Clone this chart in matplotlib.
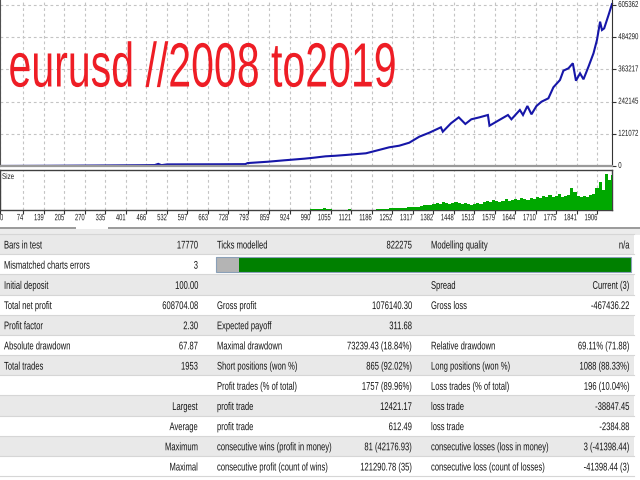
import matplotlib
matplotlib.use("Agg")
import matplotlib.pyplot as plt
import matplotlib.patheffects as pe
from matplotlib.transforms import Affine2D
from matplotlib.patches import Rectangle

# ---------------- data ----------------
title_text = "eurusd //2008 to2019"

bal_trades = [0, 150, 300, 450, 494, 505, 515, 533, 600, 700, 783, 790, 854, 907, 972,
              1000, 1039, 1070, 1103, 1168, 1209, 1242, 1274, 1306, 1338, 1370, 1407,
              1413, 1439, 1464, 1485, 1504, 1530, 1557, 1562, 1584, 1621, 1632, 1659,
              1669, 1683, 1696, 1712, 1728, 1750, 1766, 1787, 1798, 1814, 1828, 1838,
              1851, 1862, 1878, 1894, 1905, 1915, 1921, 1928, 1942, 1953]
balance = [100, 800, 1800, 3000, 3500, 8000, 3200, 6000, 6200, 6500, 7000, 11000, 16000,
           21400, 27600, 31000, 36400, 38500, 41400, 47800, 60200, 70300, 76300, 87600,
           110200, 125200, 145500, 129000, 160500, 183000, 158000, 175600, 183000, 191800,
           151500, 166600, 191800, 175600, 210600, 191800, 225600, 194300, 225600, 241800,
           254500, 296000, 323400, 358500, 367300, 386200, 320700, 348400, 326000, 373600,
           423900, 473800, 542700, 511300, 517500, 567800, 608804]

size_trades = [990, 1000, 1010, 1020, 1030, 1040, 1050, 1110,
               1200, 1210, 1220, 1230, 1240, 1250, 1260, 1270, 1280, 1290, 1300,
               1310, 1320, 1330, 1340, 1350, 1360, 1370, 1380,
               1390, 1400, 1410, 1420, 1430, 1440, 1450, 1460, 1470, 1480, 1490,
               1500, 1510, 1520, 1530,
               1540, 1550, 1560, 1570, 1580, 1590, 1600, 1610, 1620, 1630,
               1640, 1650, 1660, 1670, 1680, 1690, 1700,
               1710, 1720, 1730, 1740, 1750, 1760, 1770, 1780, 1790, 1800,
               1810, 1820, 1830, 1840, 1850, 1860, 1870, 1880, 1890,
               1900, 1910, 1920, 1930, 1940, 1950]
size_lots = [1.0, 1.5, 1.0, 1.5, 2.0, 1.5, 1.5, 1.5,
             1.0, 1.0, 1.5, 1.5, 2.0, 2.0, 2.0, 2.5, 2.0, 2.5, 3.0,
             3.0, 3.5, 3.0, 4.0, 5.0, 5.5, 5.0, 6.0,
             7.0, 6.5, 8.0, 7.0, 6.5, 7.5, 8.0, 7.0, 6.5, 7.0, 6.0,
             5.5, 6.0, 7.0, 6.5,
             8.0, 9.0, 8.5, 10.0, 9.0, 8.5, 9.5, 11.0, 9.0, 10.0,
             11.0, 10.0, 12.0, 11.0, 10.5, 12.0, 11.0,
             13.0, 12.0, 14.0, 13.0, 15.0, 13.0, 14.0, 16.0, 13.0, 14.0,
             15.0, 22.0, 18.0, 14.0, 13.0, 14.0, 13.0, 15.0, 16.0,
             22.0, 28.0, 20.0, 36.0, 30.0, 35.0]

x_tick_vals = [0, 74, 139, 205, 270, 335, 401, 466, 532, 597, 663, 728, 793, 859, 924,
               990, 1055, 1121, 1186, 1252, 1317, 1382, 1448, 1513, 1579, 1644, 1710,
               1775, 1841, 1906]
y_tick_vals = [0, 121072, 242145, 363217, 484290, 605362]

col1_labels = ["Bars in test", "Mismatched charts errors", "Initial deposit", "Total net profit",
               "Profit factor", "Absolute drawdown", "Total trades", "", "Largest", "Average",
               "Maximum", "Maximal"]
col1_values = ["17770", "3", "100.00", "608704.08", "2.30", "67.87", "1953", "", "", "", "", ""]
col2_labels = ["Ticks modelled", "", "", "Gross profit", "Expected payoff", "Maximal drawdown",
               "Short positions (won %)", "Profit trades (% of total)", "profit trade",
               "profit trade", "consecutive wins (profit in money)",
               "consecutive profit (count of wins)"]
col2_values = ["822275", "", "", "1076140.30", "311.68", "73239.43 (18.84%)", "865 (92.02%)",
               "1757 (89.96%)", "12421.17", "612.49", "81 (42176.93)", "121290.78 (35)"]
col3_labels = ["Modelling quality", "", "Spread", "Gross loss", "", "Relative drawdown",
               "Long positions (won %)", "Loss trades (% of total)", "loss trade", "loss trade",
               "consecutive losses (loss in money)", "consecutive loss (count of losses)"]
col3_values = ["n/a", "", "Current (3)", "-467436.22", "", "69.11% (71.88)", "1088 (88.33%)",
               "196 (10.04%)", "-38847.45", "-2384.88", "3 (-41398.44)", "-41398.44 (3)"]
quality_gray_frac = 0.055


# ---------------- helpers ----------------
class Stretch(pe.AbstractPathEffect):
    """Draw glyphs taller than their layout size (about the baseline), giving the
    narrow lettering of the squeezed reference screenshot."""
    def __init__(self, sy):
        super().__init__()
        self.sy = sy

    def draw_path(self, renderer, gc, tpath, affine, rgbFace=None):
        renderer.draw_path(gc, tpath, Affine2D().scale(1.0, self.sy) + affine, rgbFace)


def narrow(size, sx):
    """font size for layout, path effect list"""
    return size * sx, [Stretch(1.0 / sx)]


W, H = 640, 480
plt.rcParams["font.family"] = ["Liberation Sans", "DejaVu Sans"]

fig = plt.figure(figsize=(6.4, 4.8), dpi=100)
fig.patch.set_facecolor("white")


def px_axes(x0, y0, x1, y1, **kw):
    return fig.add_axes([x0 / W, 1 - y1 / H, (x1 - x0) / W, (y1 - y0) / H], **kw)


bg = px_axes(0, 0, W, H)
bg.set_xlim(0, W)
bg.set_ylim(H, 0)
bg.axis("off")

# ---------------- balance chart ----------------
ax1 = px_axes(0, 0, 612, 166)
ax1.set_facecolor("white")
ax1.plot(bal_trades, balance, color="#1616a8", lw=1.5, solid_joinstyle="miter",
         zorder=3, clip_on=False)
ax1.set_xlim(0, 1953)
ax1.set_ylim(0, 605362 * 166 / 161)
ax1.set_xticks(x_tick_vals)
ax1.set_yticks(y_tick_vals)
ax1.set_yticklabels([str(v) for v in y_tick_vals])
ax1.yaxis.tick_right()
ys, yeff = narrow(6.2, 0.70)
ax1.tick_params(axis="x", length=0, labelbottom=False)
ax1.tick_params(axis="y", length=3, width=0.8, color="#333333", pad=1.5,
                labelsize=ys, labelcolor="#1a1a1a")
for lbl in ax1.get_yticklabels():
    lbl.set_path_effects(yeff)
ax1.grid(True, color="#c4c4c4", linestyle=(0, (2.5, 2.5)), linewidth=0.8)
ax1.spines["top"].set_visible(False)
ax1.spines["left"].set_color("#505050")
ax1.spines["right"].set_color("#333333")
ax1.spines["bottom"].set_color("#9a9a9a")
ax1.spines["bottom"].set_linewidth(1.6)
for s in ax1.spines.values():
    s.set_zorder(4)

# ---------------- size panel ----------------
ax2 = px_axes(0, 170, 612, 210)
ax2.bar(size_trades, size_lots, width=10, align="edge", color="#00a800", linewidth=0, zorder=3)
ax2.set_xlim(0, 1953)
ax2.set_ylim(0, 40)
ax2.set_yticks([])
ax2.set_xticks(x_tick_vals)
ax2.set_xticklabels([str(v) for v in x_tick_vals], ha="right")
xs, xeff = narrow(6.6, 0.63)
ax2.tick_params(axis="x", length=3, width=0.8, color="#333333", pad=1.5,
                labelsize=xs, labelcolor="#1a1a1a")
xlbls = ax2.get_xticklabels()
for lbl in xlbls:
    lbl.set_path_effects(xeff)
xlbls[0].set_horizontalalignment("left")
ax2.grid(True, axis="x", color="#c4c4c4", linestyle=(0, (2.5, 2.5)), linewidth=0.8)
for s in ax2.spines.values():
    s.set_color("#404040")
    s.set_linewidth(1.0)
ss, seff = narrow(6.0, 0.75)
ax2.text(2, 179, "Size", transform=bg.transData, fontsize=ss, color="#222222",
         va="baseline", ha="left", path_effects=seff)

# ---------------- title ----------------
ts, teff = narrow(45, 0.657)
ax1.text(8.5, 86.5, title_text, transform=bg.transData, fontsize=ts, color="#ee1d25",
         ha="left", va="baseline", zorder=6, path_effects=teff)

# ---------------- scroll bar line ----------------
bg.add_patch(Rectangle((0, 229), W, 6, facecolor="#ececec", edgecolor="none"))
bg.add_patch(Rectangle((0, 226.5), 76, 2, facecolor="#9c9c9c", edgecolor="none"))
bg.add_patch(Rectangle((108, 226.5), W - 108, 2, facecolor="#9c9c9c", edgecolor="none"))

# ---------------- table ----------------
top = 234.0
rh = 20.18
tsize, teff2 = narrow(8.0, 0.685)
tcol = "#141414"
kw = dict(va="baseline", fontsize=tsize, color=tcol, path_effects=teff2)
for i in range(len(col1_labels)):
    y0 = top + i * rh
    fc = "#e9e9e9" if i % 2 == 0 else "#ffffff"
    bg.add_patch(Rectangle((0, y0), 634, rh, facecolor=fc, edgecolor="none"))
    bg.plot([0, 634], [y0, y0], color="#d6d6d6", lw=0.8)
    yb = y0 + 14.5
    if i >= 8:
        bg.text(198, yb, col1_labels[i], ha="right", **kw)
    else:
        bg.text(4, yb, col1_labels[i], ha="left", **kw)
    bg.text(198, yb, col1_values[i], ha="right", **kw)
    bg.text(217, yb, col2_labels[i], ha="left", **kw)
    bg.text(412, yb, col2_values[i], ha="right", **kw)
    bg.text(431, yb, col3_labels[i], ha="left", **kw)
    bg.text(629.5, yb, col3_values[i], ha="right", **kw)
bg.plot([0, 634], [top + 12 * rh, top + 12 * rh], color="#d6d6d6", lw=0.8)

# modelling quality bar
bx0, bx1, by0, bh = 216, 631, top + rh + 3, 15
bw = bx1 - bx0
bg.add_patch(Rectangle((bx0, by0), bw, bh, facecolor="#008000", edgecolor="none"))
bg.add_patch(Rectangle((bx0, by0), bw * quality_gray_frac, bh, facecolor="#b4b4b4",
                       edgecolor="none"))
bg.add_patch(Rectangle((bx0, by0), bw, bh, facecolor="none", edgecolor="#8aa0b8", lw=0.8))

fig.savefig("out.png", dpi=100)
